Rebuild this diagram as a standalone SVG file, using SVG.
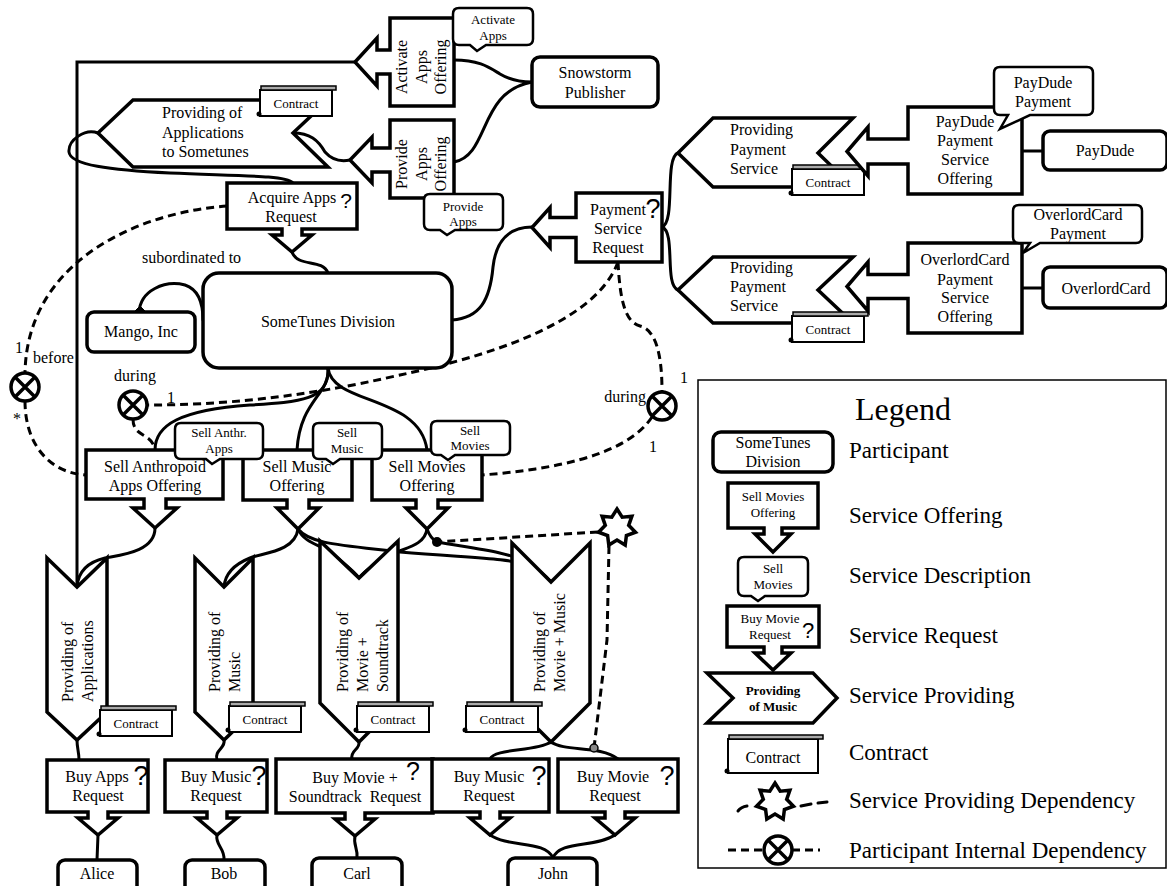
<svg xmlns="http://www.w3.org/2000/svg" xmlns:xlink="http://www.w3.org/1999/xlink" width="1167" height="886" viewBox="0 0 1167 886" font-family="'Liberation Serif', 'Times New Roman', Times, 'DejaVu Serif', serif">
<style>
.n{fill:#fff;stroke:#000;stroke-width:3.5;stroke-linejoin:miter}
.b{fill:#fff;stroke:#000;stroke-width:2.5}
.c{fill:none;stroke:#000;stroke-width:3;stroke-linecap:round}
.d{fill:none;stroke:#000;stroke-width:3;stroke-dasharray:8 5}
text{font-family:'Liberation Serif','Times New Roman',Times,'DejaVu Serif',serif;font-size:16px;fill:#000}
.m{text-anchor:middle}
.s{font-size:13px}
text.q{font-family:'Liberation Sans',Arial,sans-serif;font-size:27px;text-anchor:middle}
.lg{font-size:23px}
</style>
<defs>
<g id="ct"><rect x="0" y="4" width="72" height="26" fill="#fff" stroke="#000" stroke-width="2"/><rect x="1" y="0" width="75" height="4" fill="#aaa" stroke="#000" stroke-width="1.5"/><circle cx="-1" cy="28" r="2.5" fill="#000"/></g>
<g id="ox"><circle r="14" fill="#fff" stroke="#000" stroke-width="3.5"/><path d="M-10,-10 L10,10 M-10,10 L10,-10" stroke="#000" stroke-width="3.5"/></g>
<polygon id="star" points="0,-19 5.2,-10.8 14.9,-11.8 11.7,-2.7 18.5,4.2 9.4,7.5 8.2,17.1 0,12 -8.2,17.1 -9.4,7.5 -18.5,4.2 -11.7,-2.7 -14.9,-11.8 -5.2,-10.8" fill="#fff" stroke="#000" stroke-width="3.5"/>
</defs>

<g id="connectors">
<path class="c" d="M355,62 H77 V587"/>
<path class="c" d="M454,60 C480,60 490,68 500,74 C510,80 520,82 532,82"/>
<path class="c" d="M454,162 C490,155 478,92 532,82"/>
<path class="c" d="M293,133 C310,133 318,140 325,152 C332,160 340,162 350,160"/>
<path class="c" d="M98,133 C85,128 68,140 69,152 C70,165 110,170 170,173 C240,176 285,175 293,183"/>
<path class="c" d="M292,252 C298,268 322,258 328,273"/>
<path class="c" d="M139,313 C140,290 165,280 185,285 C200,290 203,305 203,320"/>
<polygon points="140,306 147,313 140,321 133,313" fill="#000" stroke="#000" stroke-width="1"/>
<path class="c" d="M452,320 C480,318 490,300 493,267 C496,240 510,227 532,227"/>
<path class="c" d="M662,227 C676,222 664,158 678,153"/>
<path class="c" d="M662,227 C676,232 664,285 678,290"/>
<path class="c" d="M1022,151 H1043"/>
<path class="c" d="M1022,288 H1043"/>
<path class="c" d="M328,368 C330,400 300,402 250,405 C180,410 155,425 155,450"/>
<path class="c" d="M328,368 C330,395 300,400 297,450"/>
<path class="c" d="M328,368 C332,405 420,395 427,450"/>
<path class="c" d="M155,528 C155,552 120,555 105,558 C88,562 78,572 77,587"/>
<path class="c" d="M298,529 C295,552 262,553 250,558 C235,564 225,574 224,587"/>
<path class="c" d="M298,529 C305,545 325,545 335,556 C347,566 355,572 359,578"/>
<path class="c" d="M298,529 C310,544 340,545 400,552 C470,558 510,558 525,565 C540,572 547,577 551,582"/>
<path class="c" d="M427,529 C425,545 405,548 395,553 C380,560 365,570 359,578"/>
<path class="c" d="M427,529 C430,537 435,541 437,542 C470,548 510,552 525,562 C540,570 547,577 551,582"/>
<path class="c" d="M77,740 C77,748 79,752 79,760"/>
<path class="c" d="M98,835 L97,860"/>
<path class="c" d="M224,740 C226,748 214,750 217,760"/>
<path class="c" d="M217,835 C215,845 225,848 224,860"/>
<path class="c" d="M359,742 C360,750 350,750 352,759"/>
<path class="c" d="M355,836 C353,845 358,848 357,858"/>
<path class="c" d="M551,742 C565,752 600,745 618,759"/>
<path class="c" d="M551,742 C535,752 495,748 490,759"/>
<path class="c" d="M490,835 C510,848 545,840 553,858"/>
<path class="c" d="M615,835 C595,848 560,840 553,858"/>
<path class="d" d="M227,206 C140,212 27,260 25,373"/>
<path class="d" d="M25,401 C25,445 50,473 86,475"/>
<path class="d" d="M618,262 C595,325 480,358 400,375 C300,398 220,405 147,405"/>
<path class="d" d="M133,419 C133,438 152,432 155,450"/>
<path class="d" d="M618,262 C620,300 625,322 640,326 C656,330 662,355 662,391"/>
<path class="d" d="M652,417 C625,458 545,470 482,475"/>
<path class="d" d="M598,532 L437,542"/>
<path class="d" d="M609,546 L607,640 L594,748"/>
<circle cx="437" cy="542" r="5" fill="#000"/>
<circle cx="594" cy="748" r="4" fill="#888" stroke="#000" stroke-width="1.5"/>
<use xlink:href="#star" href="#star" x="617" y="528"/>
<use xlink:href="#ox" href="#ox" x="25" y="387"/>
<use xlink:href="#ox" href="#ox" x="133" y="405"/>
<use xlink:href="#ox" href="#ox" x="662" y="406"/>
<text x="142" y="263">subordinated to</text>
<text x="15" y="353">1</text>
<text x="33" y="363">before</text>
<text x="13" y="424">*</text>
<text class="m" x="135" y="381">during</text>
<text x="167" y="403">1</text>
<text x="680" y="383">1</text>
<text x="646" y="402" text-anchor="end">during</text>
<text x="649" y="452">1</text>
</g>

<g id="activate-apps-offering">
<path class="n" d="M454,18 H390 V50 H377 V38 L355,62 L377,86 V74 H390 V106 H454 Z"/>
<text class="m" transform="translate(422,67) rotate(-90)"><tspan x="0" y="-15">Activate</tspan><tspan x="0" y="5">Apps</tspan><tspan x="0" y="24">Offering</tspan></text>
</g>
<g id="activate-apps-desc">
<path class="b" d="M459,8 H527 Q533,8 533,14 V39 Q533,45 527,45 H486 L477,51 L470,45 H459 Q453,45 453,39 V14 Q453,8 459,8 Z"/>
<text class="m s" x="493" y="24">Activate</text><text class="m s" x="493" y="40">Apps</text>
</g>
<g id="snowstorm">
<rect class="n" x="532" y="57" width="126" height="50" rx="8"/>
<text class="m" x="595" y="78">Snowstorm</text><text class="m" x="595" y="98">Publisher</text>
</g>
<g id="provide-apps-offering">
<path class="n" d="M454,120 H390 V148 H372 V137 L350,160 L372,183 V172 H390 V198 H454 Z"/>
<text class="m" transform="translate(422,164) rotate(-90)"><tspan x="0" y="-15">Provide</tspan><tspan x="0" y="5">Apps</tspan><tspan x="0" y="24">Offering</tspan></text>
</g>
<g id="provide-apps-desc">
<path class="b" d="M430,194 H497 Q503,194 503,200 V224 Q503,230 497,230 H455 L447,235 L440,230 H430 Q424,230 424,224 V200 Q424,194 430,194 Z"/>
<text class="m s" x="463" y="211">Provide</text><text class="m s" x="463" y="226">Apps</text>
</g>
<g id="providing-apps-sometunes">
<polygon class="n" points="98,133 133,100 328,100 293,133 328,167 133,167"/>
<text x="162" y="118">Providing of</text><text x="162" y="138">Applications</text><text x="162" y="157">to Sometunes</text>
<use xlink:href="#ct" href="#ct" x="260" y="86"/>
<text class="m s" x="296" y="108">Contract</text>
</g>
<g id="acquire-apps-request">
<path class="n" d="M227,183 H357 V229 H302 V235 H312 L292,252 L272,235 H282 V229 H227 Z"/>
<text class="m" x="292" y="203">Acquire Apps</text><text class="m" x="291" y="222">Request</text>
<text class="q" x="346" y="208" style="font-size:21px">?</text>
</g>
<g id="sometunes-division">
<rect class="n" x="203" y="273" width="249" height="95" rx="16"/>
<text class="m" x="328" y="327">SomeTunes Division</text>
</g>
<g id="mango">
<rect class="n" x="87" y="312" width="108" height="40" rx="7"/>
<text class="m" x="141" y="337">Mango, Inc</text>
</g>
<g id="payment-service-request">
<path class="n" d="M576,193 H662 V262 H576 V237.5 H550 V247.5 L532,227.5 L550,207.5 V217.5 H576 Z"/>
<text class="m" x="618" y="215">Payment</text><text class="m" x="618" y="234">Service</text><text class="m" x="618" y="253">Request</text>
<text class="q" x="653" y="218">?</text>
</g>
<g id="providing-payment-1">
<polygon class="n" points="678,153 713,118 853,118 818,153 853,187 713,187"/>
<text x="730" y="135">Providing</text><text x="730" y="155">Payment</text><text x="730" y="174">Service</text>
<use xlink:href="#ct" href="#ct" x="792" y="165"/>
<text class="m s" x="828" y="187">Contract</text>
</g>
<g id="providing-payment-2">
<polygon class="n" points="678,290 713,257 853,257 818,290 853,323 713,323"/>
<text x="730" y="273">Providing</text><text x="730" y="292">Payment</text><text x="730" y="311">Service</text>
<use xlink:href="#ct" href="#ct" x="792" y="312"/>
<text class="m s" x="828" y="334">Contract</text>
</g>
<g id="paydude-offering">
<path class="n" d="M908,107 H1022 V194 H908 V164 H868 V176 L847,151.5 L868,127 V139 H908 Z"/>
<text class="m" x="965" y="127">PayDude</text><text class="m" x="965" y="146">Payment</text><text class="m" x="965" y="165">Service</text><text class="m" x="965" y="184">Offering</text>
</g>
<g id="paydude-desc">
<path class="b" d="M1000,67 H1087 Q1093,67 1093,73 V109 Q1093,115 1087,115 H1030 L1000,129 L1008,115 H1000 Q994,115 994,109 V73 Q994,67 1000,67 Z"/>
<text class="m" x="1043" y="88">PayDude</text><text class="m" x="1043" y="107">Payment</text>
</g>
<g id="paydude">
<rect class="n" x="1043" y="131" width="124" height="39" rx="7"/>
<text class="m" x="1105" y="156">PayDude</text>
</g>
<g id="overlord-offering">
<path class="n" d="M908,243 H1022 V333 H908 V298.5 H868 V311 L847,286.5 L868,262 V274.5 H908 Z"/>
<text class="m" x="965" y="265">OverlordCard</text><text class="m" x="965" y="285">Payment</text><text class="m" x="965" y="303">Service</text><text class="m" x="965" y="322">Offering</text>
</g>
<g id="overlord-desc">
<path class="b" d="M1019,205 H1136 Q1142,205 1142,211 V237 Q1142,243 1136,243 H1040 L1023,253 L1030,243 H1019 Q1013,243 1013,237 V211 Q1013,205 1019,205 Z"/>
<text class="m" x="1078" y="220">OverlordCard</text><text class="m" x="1078" y="239">Payment</text>
</g>
<g id="overlordcard">
<rect class="n" x="1043" y="267" width="124" height="41" rx="7"/>
<text class="m" x="1106" y="294">OverlordCard</text>
</g>
<g id="sell-anthropoid-offering">
<path class="n" d="M86,450 H223 V499 H166 V508 H177 L155,528 L133,508 H144 V499 H86 Z"/>
<text class="m" x="155" y="472">Sell Anthropoid</text><text class="m" x="155" y="491">Apps Offering</text>
</g>
<g id="sell-music-offering">
<path class="n" d="M243,450 H352 V500 H309 V508 H319 L298,529 L277,508 H287 V500 H243 Z"/>
<text class="m" x="297" y="472">Sell Music</text><text class="m" x="297" y="491">Offering</text>
</g>
<g id="sell-movies-offering">
<path class="n" d="M372,450 H482 V500 H438 V508 H448 L427,529 L406,508 H416 V500 H372 Z"/>
<text class="m" x="427" y="472">Sell Movies</text><text class="m" x="427" y="491">Offering</text>
</g>
<g id="sell-anthr-desc">
<path class="b" d="M181,423 H257 Q263,423 263,429 V453 Q263,459 257,459 H220 L212,464 L206,459 H181 Q175,459 175,453 V429 Q175,423 181,423 Z"/>
<text class="m s" x="219" y="437">Sell Anthr.</text><text class="m s" x="219" y="453">Apps</text>
</g>
<g id="sell-music-desc">
<path class="b" d="M319,423 H376 Q382,423 382,429 V453 Q382,459 376,459 H340 L333,464 L326,459 H319 Q313,459 313,453 V429 Q313,423 319,423 Z"/>
<text class="m s" x="347" y="437">Sell</text><text class="m s" x="347" y="453">Music</text>
</g>
<g id="sell-movies-desc">
<path class="b" d="M437,421 H504 Q510,421 510,427 V449 Q510,455 504,455 H455 L448,460 L441,455 H437 Q431,455 431,449 V427 Q431,421 437,421 Z"/>
<text class="m s" x="470" y="435">Sell</text><text class="m s" x="470" y="450">Movies</text>
</g>
<g id="providing-applications">
<polygon class="n" points="47,558 77,587 107,558 107,712 77,740 47,712"/>
<text transform="translate(73,702) rotate(-90)"><tspan x="0" y="0">Providing of</tspan><tspan x="0" y="20">Applications</tspan></text>
<use xlink:href="#ct" href="#ct" x="100" y="706"/>
<text class="m s" x="136" y="728">Contract</text>
</g>
<g id="providing-music">
<polygon class="n" points="195,558 224,587 253,558 253,712 224,740 195,712"/>
<text transform="translate(220,692) rotate(-90)"><tspan x="0" y="0">Providing of</tspan><tspan x="0" y="20">Music</tspan></text>
<use xlink:href="#ct" href="#ct" x="229" y="702"/>
<text class="m s" x="265" y="724">Contract</text>
</g>
<g id="providing-movie-soundtrack">
<polygon class="n" points="320,541 359,578 398,541 398,703 359,742 320,703"/>
<text transform="translate(348,692) rotate(-90)"><tspan x="0" y="0">Providing of</tspan><tspan x="0" y="20">Movie +</tspan><tspan x="0" y="40">Soundtrack</tspan></text>
<use xlink:href="#ct" href="#ct" x="357" y="702"/>
<text class="m s" x="393" y="724">Contract</text>
</g>
<g id="providing-movie-music">
<polygon class="n" points="512,543 551,582 590,543 590,703 551,742 512,703"/>
<text transform="translate(545,692) rotate(-90)"><tspan x="0" y="0">Providing of</tspan><tspan x="0" y="20">Movie + Music</tspan></text>
<use xlink:href="#ct" href="#ct" x="466" y="702"/>
<text class="m s" x="502" y="724">Contract</text>
</g>
<g id="buy-apps-request">
<path class="n" d="M47,760 H148 V812 H108 V818 H118 L98,835 L78,818 H88 V812 H47 Z"/>
<text class="m" x="97" y="782">Buy Apps</text><text class="m" x="98" y="801">Request</text>
<text class="q" x="141" y="785">?</text>
</g>
<g id="alice">
<rect class="n" x="58" y="860" width="79" height="40" rx="7"/>
<text class="m" x="97" y="879">Alice</text>
</g>
<g id="buy-music-request-bob">
<path class="n" d="M165,760 H267 V812 H227 V818 H237 L217,835 L197,818 H207 V812 H165 Z"/>
<text class="m" x="216" y="782">Buy Music</text><text class="m" x="216" y="801">Request</text>
<text class="q" x="259" y="785">?</text>
</g>
<g id="bob">
<rect class="n" x="185" y="860" width="80" height="40" rx="7"/>
<text class="m" x="224" y="879">Bob</text>
</g>
<g id="buy-movie-soundtrack-request">
<path class="n" d="M276,759 H433 V813 H365 V819 H375 L355,836 L335,819 H345 V813 H276 Z"/>
<text class="m" x="355" y="783">Buy Movie +</text><text class="m" x="355" y="802">Soundtrack&#160; Request</text>
<text class="q" x="413" y="780" style="font-size:25px">?</text>
</g>
<g id="carl">
<rect class="n" x="312" y="858" width="90" height="40" rx="7"/>
<text class="m" x="357" y="879">Carl</text>
</g>
<g id="buy-music-request-john">
<path class="n" d="M432,759 H549 V812 H500 V818 H510 L490,835 L470,818 H480 V812 H432 Z"/>
<text class="m" x="489" y="782">Buy Music</text><text class="m" x="489" y="801">Request</text>
<text class="q" x="539" y="785">?</text>
</g>
<g id="buy-movie-request">
<path class="n" d="M558,759 H678 V812 H625 V818 H635 L615,835 L595,818 H605 V812 H558 Z"/>
<text class="m" x="613" y="782">Buy Movie</text><text class="m" x="615" y="801">Request</text>
<text class="q" x="667" y="785">?</text>
</g>
<g id="john">
<rect class="n" x="508" y="858" width="89" height="40" rx="7"/>
<text class="m" x="553" y="879">John</text>
</g>

<g id="legend">
<rect x="698" y="380" width="468" height="488" fill="#fff" stroke="#000" stroke-width="1.5"/>
<text class="m" x="903" y="420" style="font-size:32px">Legend</text>
<rect class="n" x="713" y="432" width="120" height="40" rx="8"/>
<text class="m" x="773" y="448">SomeTunes</text><text class="m" x="773" y="467">Division</text>
<text class="lg" x="849" y="458">Participant</text>
<path class="n" d="M728,483 H818 V528 H782 V534 H791 L773,552 L755,534 H764 V528 H728 Z"/>
<text class="m s" x="773" y="501">Sell Movies</text><text class="m s" x="773" y="517">Offering</text>
<text class="lg" x="849" y="523">Service Offering</text>
<path class="b" d="M744,557 H802 Q808,557 808,563 V590 Q808,596 802,596 H765 L758,601 L751,596 H744 Q738,596 738,590 V563 Q738,557 744,557 Z"/>
<text class="m s" x="773" y="573">Sell</text><text class="m s" x="773" y="589">Movies</text>
<text class="lg" x="849" y="583">Service Description</text>
<path class="n" d="M727,606 H819 V647 H782 V653 H791 L773,670 L755,653 H764 V647 H727 Z"/>
<text class="m s" x="770" y="623">Buy Movie</text><text class="m s" x="770" y="639">Request</text>
<text class="q" x="808" y="638" style="font-size:22px">?</text>
<text class="lg" x="849" y="643">Service Request</text>
<polygon class="n" points="707,673 813,673 837,698 813,723 707,723 733,698"/>
<text class="m s" x="773" y="695" style="font-weight:bold">Providing</text><text class="m s" x="773" y="711" style="font-weight:bold">of Music</text>
<text class="lg" x="849" y="703">Service Providing</text>
<rect x="728" y="739" width="90" height="34" fill="#fff" stroke="#000" stroke-width="2"/>
<rect x="729" y="735" width="94" height="4" fill="#aaa" stroke="#000" stroke-width="1.5"/>
<circle cx="727" cy="771" r="2.5" fill="#000"/>
<text class="m" x="773" y="763">Contract</text>
<text class="lg" x="849" y="760">Contract</text>
<path class="c" d="M738,811 Q741,807 747,806"/>
<path class="c" d="M801,806 L811,804 M818,803 L827,802"/>
<use xlink:href="#star" href="#star" x="775" y="802"/>
<text class="lg" x="849" y="808">Service Providing Dependency</text>
<path class="d" d="M728,850 H764 M792,850 H820"/>
<use xlink:href="#ox" href="#ox" x="778" y="850"/>
<text class="lg" x="849" y="858">Participant Internal Dependency</text>
</g>
</svg>
